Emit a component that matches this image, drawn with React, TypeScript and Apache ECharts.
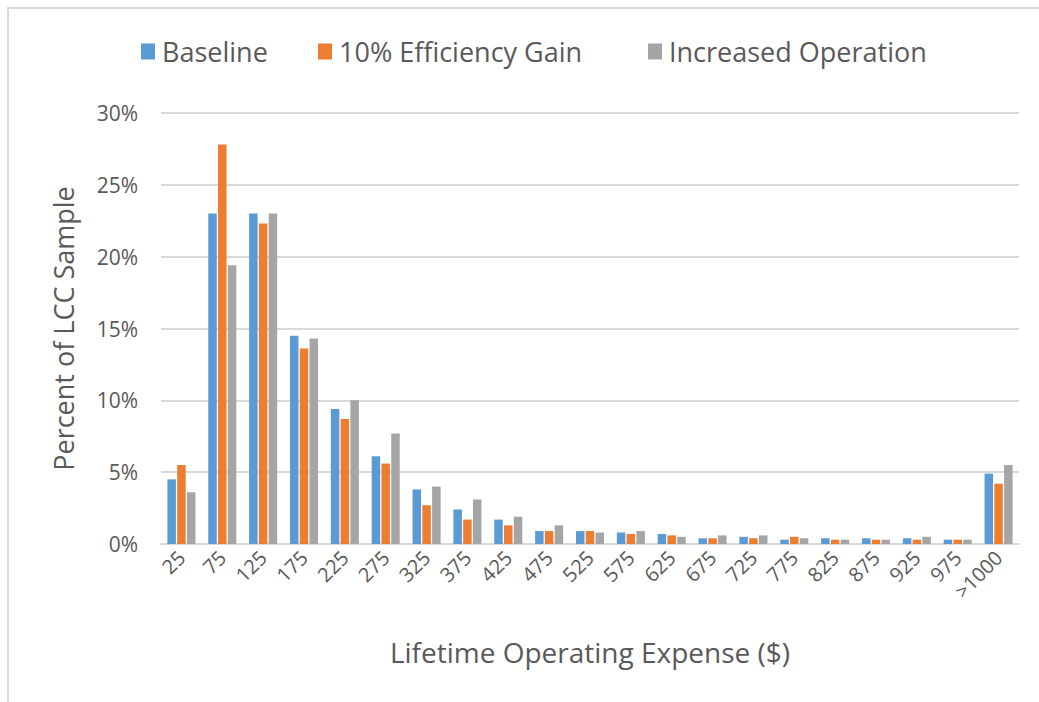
import React, { useEffect, useRef } from "react";
import * as echarts from "echarts";

const categories = ["25","75","125","175","225","275","325","375","425","475","525","575","625","675","725","775","825","875","925","975",">1000"];
const baseline = [4.5,23.0,23.0,14.5,9.4,6.1,3.8,2.4,1.7,0.9,0.9,0.8,0.7,0.4,0.5,0.3,0.4,0.4,0.4,0.3,4.9];
const efficiency = [5.5,27.8,22.3,13.6,8.7,5.6,2.7,1.7,1.3,0.9,0.9,0.7,0.6,0.4,0.4,0.5,0.3,0.3,0.3,0.3,4.2];
const increased = [3.6,19.4,23.0,14.3,10.0,7.7,4.0,3.1,1.9,1.3,0.8,0.9,0.5,0.6,0.6,0.4,0.3,0.3,0.5,0.3,5.5];
const seriesNames = ["Baseline","10% Efficiency Gain","Increased Operation"];
const colors = ["#5B9BD5","#ED7D31","#A5A5A5"];
const legendLefts = [136, 313, 643];

const FONT = "'Open Sans', sans-serif";
const TXT = "#595959";

export default function App() {
  const ref = useRef<HTMLDivElement>(null);
  useEffect(() => {
    if (!ref.current) return;
    const chart = echarts.init(ref.current, null, { renderer: "svg" });
    const data = [baseline, efficiency, increased];
    chart.setOption({
      animation: false,
      backgroundColor: "#ffffff",
      textStyle: { fontFamily: FONT },
      graphic: [
        {
          type: "rect",
          shape: { x: 8, y: 8, width: 1200, height: 900 },
          style: { fill: "none", stroke: "#d9d9d9", lineWidth: 2 },
          silent: true,
        },
      ],
      legend: seriesNames.map((n, i) => ({
        left: legendLefts[i],
        top: 33,
        itemWidth: 14,
        itemHeight: 16,
        icon: "rect",
        textStyle: { fontSize: 27, color: TXT, fontFamily: FONT, padding: [0, 0, 0, 2] },
        data: [n],
      })),
      grid: { left: 161, right: 20, top: 113, bottom: 158 },
      xAxis: {
        type: "category",
        data: categories,
        axisLine: { lineStyle: { color: "#d9d9d9", width: 2 } },
        axisTick: { show: false },
        axisLabel: { interval: 0, rotate: 45, fontSize: 20, color: TXT, margin: 10, fontFamily: FONT },
        name: "Lifetime Operating Expense ($)",
        nameLocation: "middle",
        nameGap: 94,
        nameTextStyle: { fontSize: 28, color: TXT, fontFamily: FONT },
      },
      yAxis: {
        type: "value",
        min: 0,
        max: 30,
        interval: 5,
        axisLine: { show: false },
        axisTick: { show: false },
        splitLine: { lineStyle: { color: "#d9d9d9", width: 2 } },
        axisLabel: { formatter: "{value}%", fontSize: 21, color: TXT, margin: 23, fontFamily: FONT },
        name: "Percent of LCC Sample",
        nameLocation: "middle",
        nameGap: 84,
        nameTextStyle: { fontSize: 27, color: TXT, fontFamily: FONT },
      },
      series: seriesNames.map((n, i) => ({
        name: n,
        type: "bar",
        data: data[i],
        barWidth: 8.5,
        barGap: "15%",
        itemStyle: { color: colors[i] },
      })),
    });
    return () => chart.dispose();
  }, []);
  return <div ref={ref} style={{ position: "fixed", left: 0, top: 0, width: 1039, height: 702 }} />;
}
